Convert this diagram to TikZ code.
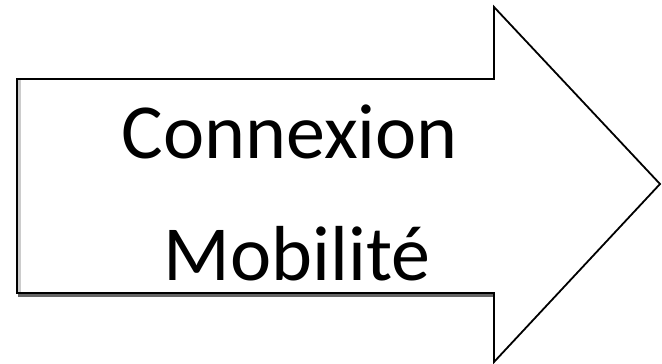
\documentclass[tikz,border=0pt]{standalone}
\usepackage{fontspec}
\setmainfont{Carlito}
\usepackage{tikz}
\usetikzlibrary{calc,positioning}

\tikzset{
    bigtext/.style={font=\fontsize{78}{82}\selectfont, inner sep=0pt, anchor=base},
}

\begin{document}
\begin{tikzpicture}[x=1pt,y=-1pt]
    \useasboundingbox (0,0) rectangle (662,364);
    % arrow outline
    \coordinate (tl) at (17,79);
    \coordinate (bl) at (17,293);
    \coordinate (nt) at (494,79);
    \coordinate (nb) at (494,293);
    \coordinate (ht) at (494,7);
    \coordinate (hb) at (494,362);
    \coordinate (tip) at (660,184);
    \fill[white] (tl) -- (nt) -- (ht) -- (tip) -- (hb) -- (nb) -- (bl) -- cycle;
    % shadow
    \draw[line width=3pt, black!60] ($(bl)+(1,2.5)$) -- ($(nb)+(0,2.5)$);
    \draw[line width=3pt, black!20] ($(tl)+(2.5,1)$) -- ($(bl)+(2.5,-1)$);
    \draw[line width=1.8pt, line join=miter]
        (tl) -- (nt) -- (ht) -- (tip) -- (hb) -- (nb) -- (bl) -- cycle;
    % labels
    \node[bigtext] (conn) at (290,158) {Connexion};
    \node[bigtext] (mob) at (297,280) {Mobilité};
\end{tikzpicture}
\end{document}
